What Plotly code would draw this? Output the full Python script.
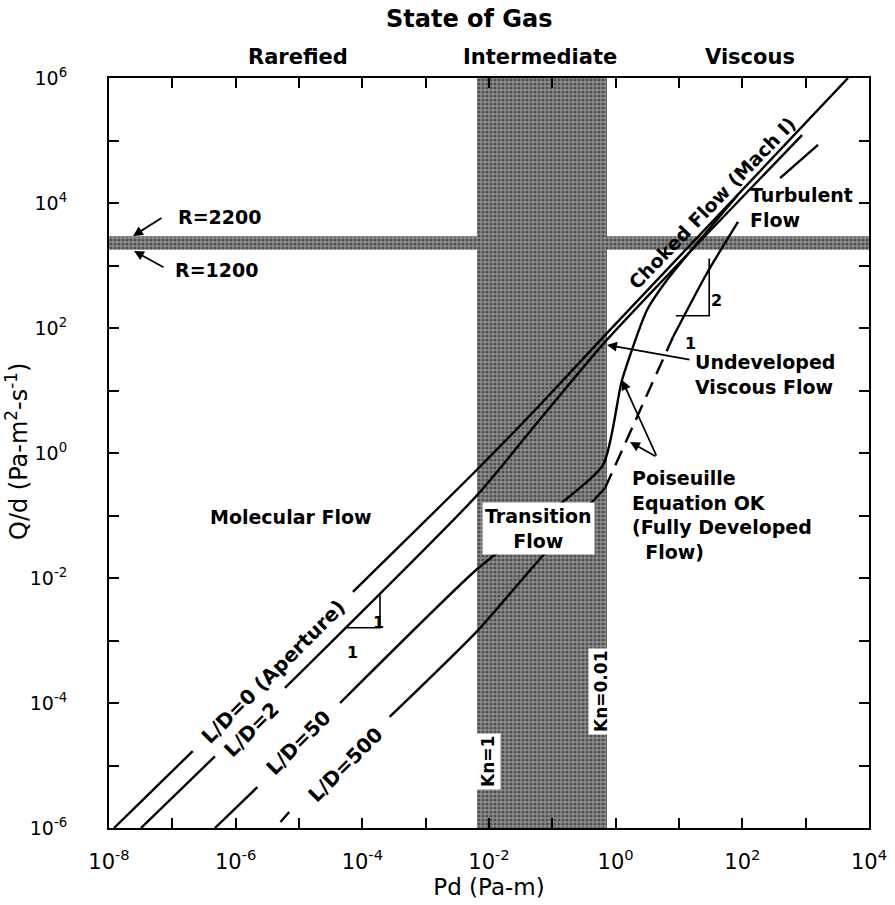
import plotly.graph_objects as go

# ---------------- data ----------------
# x: Pd (Pa-m), y: Q/d (Pa-m^2-s^-1); None = gap where a label sits on the line
ld0_pd = [1.2e-8, 2.1e-7, None, 7.1e-5, 6.45e-3, 6.3e-2, 0.68, 4670]
ld0_q = [1.0e-6, 1.7e-5, None, 6.0e-3, 0.54, 5.8, 77, 1.0e6]

ld2_pd = [3.2e-8, 4.7e-7, None, 6.0e-6, 6.45e-3, 6.3e-2, 0.68, 877]
ld2_q = [1.0e-6, 1.4e-5, None, 1.74e-4, 0.21, 3.4, 60, 1.22e5]

ld50_pd = [4.7e-7, 2.2e-6, None, 4.45e-5, 6.45e-3, 6.3e-2, 0.63, 1.26, 3.13, 6.46, 85]
ld50_q = [1.0e-6, 4.5e-6, None, 1.0e-4, 0.0138, 0.085, 0.64, 14.7, 194, 586, 1.34e4]

ld500_stub_pd = [5.1e-6, 7.0e-6]
ld500_stub_q = [1.25e-6, 1.8e-6]
ld500_pd = [2.7e-4, 6.45e-3, 6.3e-2, 0.68]
ld500_q = [6.0e-5, 1.4e-3, 0.02, 0.275]
ld500_dash_pd = [0.68, 8.05]
ld500_dash_q = [0.275, 71.8]
ld500_top_pd = [8.05, 27.7, 85.5, None, 394, 1567]
ld500_top_q = [71.8, 759, 4970, None, 2.5e4, 8.5e4]

# shaded regions
kn_band_pd = [6.45e-3, 0.73]          # Kn = 1 ... Kn = 0.01
re_band_q = [1790, 2950]              # R = 1200 ... R = 2200

# slope triangles (corners)
tri1_pd = [5.6e-5, 1.9e-4, 1.9e-4]
tri1_q = [1.6e-3, 1.6e-3, 5.4e-3]
tri2_pd = [8.9, 30, 30]
tri2_q = [157, 157, 1300]

x_ticks = [10.0 ** k for k in range(-8, 5)]
x_text = ["10<sup>%d</sup>" % k if k % 2 == 0 else "" for k in range(-8, 5)]
y_ticks = [10.0 ** k for k in range(-6, 7)]
y_text = ["10<sup>%d</sup>" % k if k % 2 == 0 else "" for k in range(-6, 7)]

# ---------------- figure ----------------
W, H = 895, 905
L, R, T, B = 109, 26, 78, 77
PX0, PX1, PY0, PY1 = L, W - R, T, H - B   # plot box in page pixels
FONT = "DejaVu Sans"
BOLD = "bold"


def ax_x(px):
    return -8 + (px - PX0) / ((PX1 - PX0) / 12.0)


def ax_y(py):
    return 6 - (py - PY0) / ((PY1 - PY0) / 12.0)


def pxp(px):
    return (px - PX0) / (PX1 - PX0)


def pyp(py):
    return (PY1 - py) / (PY1 - PY0)


fig = go.Figure()

band_style = dict(fill="toself", mode="none", hoverinfo="skip", showlegend=False,
                  fillcolor="#8a8a8a",
                  fillpattern=dict(shape=".", fgcolor="#111111", bgcolor="#8e8e8e",
                                   size=4, solidity=0.5))
fig.add_trace(go.Scatter(x=[kn_band_pd[0], kn_band_pd[1], kn_band_pd[1], kn_band_pd[0], kn_band_pd[0]],
                         y=[1e-6, 1e-6, 1e6, 1e6, 1e-6], **band_style))
fig.add_trace(go.Scatter(x=[1e-8, 1e4, 1e4, 1e-8, 1e-8],
                         y=[re_band_q[0], re_band_q[0], re_band_q[1], re_band_q[1], re_band_q[0]],
                         **band_style))

for xs, ys in [(ld0_pd, ld0_q), (ld2_pd, ld2_q), (ld50_pd, ld50_q), (ld500_pd, ld500_q),
               (ld500_top_pd, ld500_top_q), (ld500_stub_pd, ld500_stub_q)]:
    fig.add_trace(go.Scatter(x=xs, y=ys, mode="lines", connectgaps=False,
                             line=dict(color="black", width=2.4, shape="spline", smoothing=0.6),
                             hoverinfo="skip", showlegend=False))
fig.add_trace(go.Scatter(x=ld500_dash_pd, y=ld500_dash_q, mode="lines",
                         line=dict(color="black", width=2.4, dash="16px,9px"),
                         hoverinfo="skip", showlegend=False))
for xs, ys in [(tri1_pd, tri1_q), (tri2_pd, tri2_q)]:
    fig.add_trace(go.Scatter(x=xs, y=ys, mode="lines", line=dict(color="black", width=1.6),
                             hoverinfo="skip", showlegend=False))

ann = []


def text(px, py, s, size=19, angle=0, align="center", xanchor="center", bg=None, **kw):
    d = dict(x=ax_x(px), y=ax_y(py), xref="x", yref="y", text=s, showarrow=False,
             font=dict(family=FONT, size=size, color="black", weight=BOLD), textangle=angle,
             align=align, xanchor=xanchor, yanchor="middle")
    if bg:
        d.update(bgcolor=bg, borderpad=2)
    d.update(kw)
    ann.append(d)


def arrow(px0, py0, px1, py1):
    ann.append(dict(x=ax_x(px1), y=ax_y(py1), xref="x", yref="y", text="",
                    showarrow=True, arrowhead=2, arrowsize=1.1, arrowwidth=1.8,
                    arrowcolor="black", ax=px0 - px1, ay=py0 - py1))


# header texts (paper coords vertically)
for s, px, py, sz in [("State of Gas", 469, 19, 24), ("Rarefied", 298, 57, 21),
                      ("Intermediate", 540, 57, 21), ("Viscous", 750, 57, 21)]:
    ann.append(dict(x=ax_x(px), y=pyp(py), xref="x", yref="paper", text=s, showarrow=False,
                    font=dict(family=FONT, size=sz, color="black", weight=BOLD), yanchor="middle"))

# y-axis title
ann.append(dict(x=pxp(17), y=pyp(452), xref="paper", yref="paper", showarrow=False,
                text="Q/d (Pa-m<sup>2</sup>-s<sup>-1</sup>)", textangle=-90,
                font=dict(family=FONT, size=24, color="black"),
                xanchor="center", yanchor="middle"))

text(219, 217, "R=2200")
text(216, 270, "R=1200")
arrow(163, 217, 133, 236)
arrow(165, 268, 134, 251)
text(291, 517, "Molecular Flow")
text(538, 528, "Transition<br>Flow", bg="white")
text(273, 672, "L/D=0 (Aperture)", size=20, angle=-45)
text(251, 730, "L/D=2", size=20, angle=-45)
text(298, 743, "L/D=50", size=20, angle=-45)
text(345, 765, "L/D=500", size=20, angle=-45)
text(378, 622, "1", size=16)
text(352, 652, "1", size=16)
text(488, 762, "Kn=1", size=17, angle=-90, bg="white")
text(601, 692, "Kn=0.01", size=17, angle=-90, bg="white")
text(712, 203, "Choked Flow (Mach I)", angle=-46)
text(748, 207, "Turbulent<br>Flow", xanchor="left", align="left")
text(716, 300, "2", size=16)
text(690, 343, "1", size=16)
text(693, 374, "Undeveloped<br>Viscous Flow", xanchor="left", align="left")
arrow(691, 360, 607, 345)
text(630, 515, "Poiseuille<br>Equation OK<br>(Fully Developed<br>  Flow)", xanchor="left", align="left")
arrow(657, 457, 622, 380)
arrow(657, 457, 630, 442)

axis_common = dict(type="log", showgrid=False, zeroline=False, showline=True, linecolor="black",
                   linewidth=2, mirror="ticks", ticks="inside", ticklen=10, tickwidth=1.6,
                   tickcolor="black")

fig.update_layout(
    width=W, height=H, margin=dict(l=L, r=R, t=T, b=B, autoexpand=False),
    paper_bgcolor="white", plot_bgcolor="white", showlegend=False,
    annotations=ann,
    xaxis=dict(range=[-8, 4], tickvals=x_ticks, ticktext=x_text, ticklabelstandoff=14,
               tickfont=dict(family=FONT, size=21, color="black"),
               title=dict(text="Pd (Pa-m)", font=dict(family=FONT, size=23, color="black"), standoff=4),
               **axis_common),
    yaxis=dict(range=[-6, 6], tickvals=y_ticks, ticktext=y_text, ticklabelstandoff=36,
               tickfont=dict(family=FONT, size=19, color="black"),
               **axis_common),
)

fig.write_html("out.html", config={"displayModeBar": False},
               post_script="document.body.style.margin='0';document.body.style.overflow='hidden';")
